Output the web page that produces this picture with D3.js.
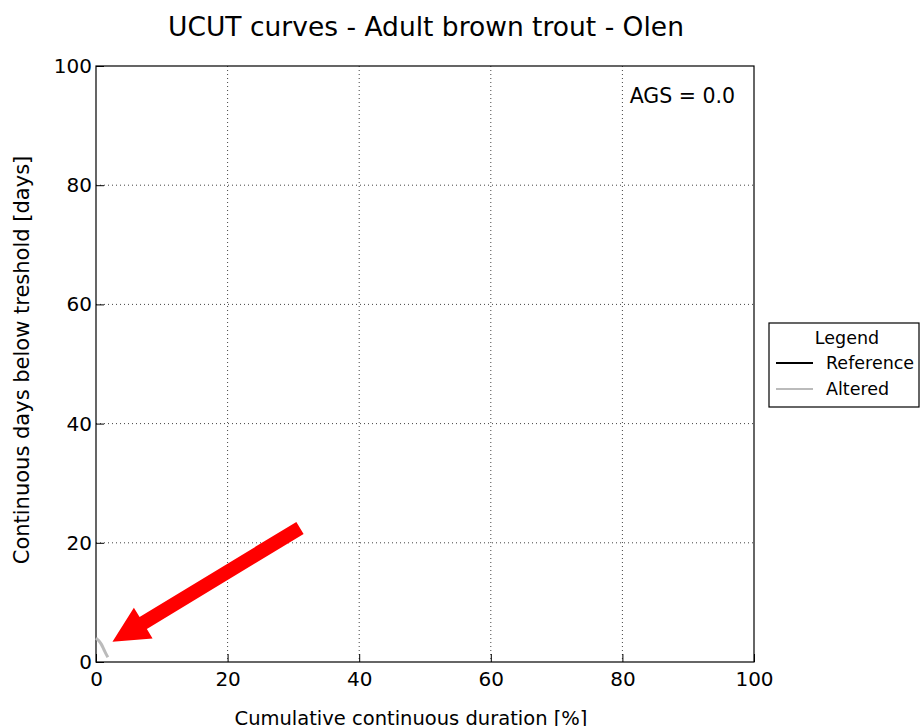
<!DOCTYPE html>
<html lang="en">
<head>
    <meta charset="UTF-8">
    <title>UCUT curves</title>
    <script src="https://cdnjs.cloudflare.com/ajax/libs/d3/7.8.5/d3.min.js"></script>
    <style>
        body { margin: 0; background: white; }
        text { font-family: "DejaVu Sans", sans-serif; fill: black; }
    </style>
</head>
<body>
<div id="chart"></div>
<script>
    // data
    const xTicks = [0, 20, 40, 60, 80, 100];
    const yTicks = [0, 20, 40, 60, 80, 100];
    const referenceCurve = [];   // nothing visible for the reference series
    const alteredCurve = [
        {x: 0.0, y: 4.0},
        {x: 0.4, y: 3.6},
        {x: 0.8, y: 3.0},
        {x: 1.2, y: 2.1},
        {x: 1.5, y: 1.4},
        {x: 1.8, y: 0.8}
    ];
    const arrowFrom = {x: 31.0, y: 22.5};
    const arrowTo = {x: 2.5, y: 3.4};
    const agsValue = 0.0;

    const width = 921, height = 726;
    const m = {left: 96, right: 754, top: 66, bottom: 662};

    const svg = d3.select('#chart').append('svg')
        .attr('width', width).attr('height', height);

    const x = d3.scaleLinear().domain([0, 100]).range([m.left, m.right]);
    const y = d3.scaleLinear().domain([0, 100]).range([m.bottom, m.top]);

    // grid
    svg.append('g').selectAll('line').data(xTicks.slice(1, -1)).enter().append('line')
        .attr('x1', d => x(d)).attr('x2', d => x(d))
        .attr('y1', m.top).attr('y2', m.bottom)
        .attr('stroke', '#444').attr('stroke-width', 1).attr('stroke-dasharray', '1,3');
    svg.append('g').selectAll('line').data(yTicks.slice(1, -1)).enter().append('line')
        .attr('y1', d => y(d)).attr('y2', d => y(d))
        .attr('x1', m.left).attr('x2', m.right)
        .attr('stroke', '#444').attr('stroke-width', 1).attr('stroke-dasharray', '1,3');

    // axes (ticks inward, like matplotlib classic)
    const xAxis = svg.append('g').attr('transform', `translate(0,${m.bottom})`)
        .call(d3.axisBottom(x).tickValues(xTicks).tickSize(-8).tickPadding(10));
    const yAxis = svg.append('g').attr('transform', `translate(${m.left},0)`)
        .call(d3.axisLeft(y).tickValues(yTicks).tickSize(-8).tickPadding(4));
    [xAxis, yAxis].forEach(a => {
        a.select('.domain').remove();
        a.selectAll('text').style('font-size', '20px').style('font-family', '"DejaVu Sans", sans-serif');
        a.selectAll('line').attr('stroke', 'black');
    });
    yAxis.selectAll('text').attr('dy', '0.32em');

    // frame
    svg.append('rect')
        .attr('x', m.left).attr('y', m.top)
        .attr('width', m.right - m.left).attr('height', m.bottom - m.top)
        .attr('fill', 'none').attr('stroke', 'black').attr('stroke-width', 1.2);

    const line = d3.line().x(d => x(d.x)).y(d => y(d.y)).curve(d3.curveMonotoneX);
    svg.append('path').datum(referenceCurve).attr('d', line)
        .attr('fill', 'none').attr('stroke', 'black').attr('stroke-width', 2);
    svg.append('path').datum(alteredCurve).attr('d', line)
        .attr('fill', 'none').attr('stroke', '#bbbbbb').attr('stroke-width', 3);

    // red arrow annotation
    const x0 = x(arrowFrom.x), y0 = y(arrowFrom.y), x1 = x(arrowTo.x), y1 = y(arrowTo.y);
    const len = Math.hypot(x1 - x0, y1 - y0);
    const ang = Math.atan2(y1 - y0, x1 - x0) * 180 / Math.PI;
    const shaft = 7, headW = 18, headL = 36;
    svg.append('polygon')
        .attr('points', [
            [0, -shaft], [len - headL, -shaft], [len - headL, -headW], [len, 0],
            [len - headL, headW], [len - headL, shaft], [0, shaft]
        ].map(p => p.join(',')).join(' '))
        .attr('transform', `translate(${x0},${y0}) rotate(${ang})`)
        .attr('fill', 'red');

    // texts
    svg.append('text').attr('x', 426).attr('y', 36).attr('text-anchor', 'middle')
        .style('font-size', '26.5px').text('UCUT curves - Adult brown trout - Olen');
    svg.append('text').attr('x', 411).attr('y', 725).attr('text-anchor', 'middle')
        .style('font-size', '19.5px').text('Cumulative continuous duration [%]');
    svg.append('text').attr('transform', `translate(29,${(m.top + m.bottom) / 2 - 4}) rotate(-90)`)
        .attr('text-anchor', 'middle').style('font-size', '21px')
        .text('Continuous days below treshold [days]');
    svg.append('text').attr('x', 735).attr('y', 103).attr('text-anchor', 'end')
        .style('font-size', '20.5px').text(`AGS = ${agsValue.toFixed(1)}`);

    // legend
    const lg = svg.append('g').attr('transform', 'translate(769,323)');
    lg.append('rect').attr('width', 150).attr('height', 84)
        .attr('fill', 'white').attr('stroke', 'black').attr('stroke-width', 1.2);
    lg.append('text').attr('x', 78).attr('y', 21).attr('text-anchor', 'middle')
        .style('font-size', '17.5px').text('Legend');
    const items = [{name: 'Reference', color: 'black'}, {name: 'Altered', color: '#bbbbbb'}];
    const li = lg.selectAll('.item').data(items).enter().append('g')
        .attr('transform', (d, i) => `translate(0,${40 + i * 26})`);
    li.append('line').attr('x1', 7).attr('x2', 44).attr('y1', 0).attr('y2', 0)
        .attr('stroke', d => d.color).attr('stroke-width', 2);
    li.append('text').attr('x', 57).attr('y', 6).style('font-size', '17.5px').text(d => d.name);
</script>
</body>
</html>
